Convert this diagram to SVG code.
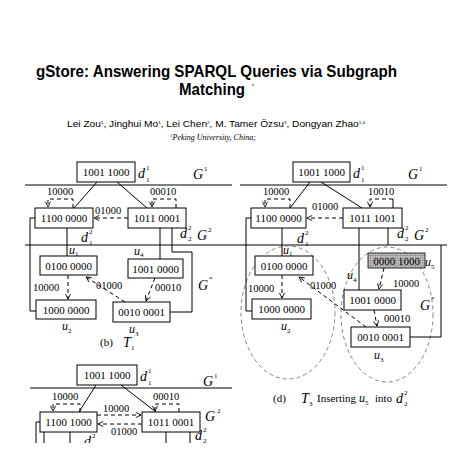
<svg xmlns="http://www.w3.org/2000/svg" width="464" height="472" viewBox="0 0 464 472">
<defs>
<style>
.bx{fill:#fff;stroke:#000;stroke-width:1}
.t{font-family:"Liberation Serif",serif;font-size:11px;fill:#000;text-anchor:middle}
.l{font-family:"Liberation Serif",serif;font-size:10.5px;fill:#000}
.m{font-family:"Liberation Serif",serif;font-style:italic;font-size:14px;fill:#000}
.mu{font-family:"Liberation Serif",serif;font-style:italic;font-size:12px;fill:#000}
.s{font-family:"Liberation Serif",serif;font-size:7px;fill:#000}
.ln{fill:none;stroke:#000;stroke-width:1}
.dl{fill:none;stroke:#000;stroke-width:1;stroke-dasharray:4,3}
.el{fill:none;stroke:#666;stroke-width:0.8;stroke-dasharray:4,3}
.cap{font-family:"Liberation Serif",serif;font-size:11px;fill:#000}
</style>
<marker id="ar" viewBox="0 0 8 8" refX="7" refY="4" markerWidth="7" markerHeight="7" orient="auto" markerUnits="userSpaceOnUse">
<path d="M1,1 L7,4 L1,7" fill="none" stroke="#000" stroke-width="1"/>
</marker>
<pattern id="hatch" width="2.5" height="2.5" patternUnits="userSpaceOnUse">
<rect width="2.5" height="2.5" fill="#c8c8c8"/>
<path d="M0,0 H2.5 M0,0 V2.5" stroke="#555" stroke-width="0.6"/>
</pattern>
<clipPath id="cut"><rect x="0" y="355" width="240" height="88"/></clipPath>
</defs>
<rect width="464" height="472" fill="#fff"/>

<g id="header">
<text x="36" y="77" font-family="Liberation Sans,Arial,sans-serif" font-weight="bold" font-size="17" textLength="361" lengthAdjust="spacingAndGlyphs">gStore: Answering SPARQL Queries via Subgraph</text>
<text x="179" y="95" font-family="Liberation Sans,Arial,sans-serif" font-weight="bold" font-size="16" textLength="66" lengthAdjust="spacingAndGlyphs">Matching</text>
<text x="252" y="88" font-family="Liberation Sans,sans-serif" font-size="5">*</text>
<text x="67" y="127" font-family="Liberation Sans,Arial,sans-serif" font-size="9" textLength="298" lengthAdjust="spacingAndGlyphs">Lei Zou<tspan font-size="4" dy="-3">1</tspan><tspan dy="3">, Jinghui Mo</tspan><tspan font-size="4" dy="-3">1</tspan><tspan dy="3">, Lei Chen</tspan><tspan font-size="4" dy="-3">2</tspan><tspan dy="3">, M. Tamer Özsu</tspan><tspan font-size="4" dy="-3">3</tspan><tspan dy="3">, Dongyan Zhao</tspan><tspan font-size="4" dy="-3">1,4</tspan></text>
<text x="170" y="140" font-family="Liberation Serif,serif" font-style="italic" font-size="8"><tspan font-size="5" dy="-3">1</tspan><tspan dy="3">Peking University, China;</tspan></text>
</g>

<!-- ===== Figure (b) ===== -->
<g id="b-connectors">
<line class="ln" x1="25" y1="185" x2="232" y2="185"/>
<line class="ln" x1="25" y1="245" x2="232" y2="245"/>
<line class="ln" x1="97" y1="182" x2="74" y2="208"/>
<line class="ln" x1="117" y1="182" x2="147" y2="208"/>
<path class="dl" d="M73,208 V199 H48 V207" marker-end="url(#ar)"/>
<path class="dl" d="M176,208 V199 H152 V207" marker-end="url(#ar)"/>
<path class="dl" d="M128,218 H94" marker-end="url(#ar)"/>
<line class="ln" x1="67" y1="228" x2="67" y2="256"/>
<path class="ln" d="M35,218 H30 V311 H36"/>
<line class="ln" x1="160" y1="228" x2="160" y2="259"/>
<path class="ln" d="M172,228 V252 H192 V312 H170"/>
<path class="dl" d="M68,275 V299" marker-end="url(#ar)"/>
<path class="dl" d="M125,302 L86,277" marker-end="url(#ar)"/>
<path class="dl" d="M155,278 L146,301" marker-end="url(#ar)"/>
<text class="l" x="47" y="195">10000</text>
<text class="l" x="150" y="195">00010</text>
<text class="l" x="95" y="214">01000</text>
<text class="l" x="33" y="291">10000</text>
<text class="l" x="96" y="289">01000</text>
<text class="l" x="155" y="291">00010</text>
</g>
<g id="b-d11"><rect class="bx" x="77" y="162" width="58" height="20"/><text class="t" x="106" y="176">1001 1000</text>
<text class="m" x="138" y="178">d</text><text class="s" x="146" y="170">1</text><text class="s" x="146" y="182">1</text></g>
<g id="b-G1"><text class="m" x="193" y="179">G</text><text class="s" x="204" y="171">1</text></g>
<g id="b-d12"><rect class="bx" x="35" y="208" width="58" height="20"/><text class="t" x="64" y="222">1100 0000</text>
<text class="m" x="81" y="242">d</text><text class="s" x="89" y="234">2</text><text class="s" x="89" y="245">1</text></g>
<g id="b-d22"><rect class="bx" x="128" y="208" width="58" height="20"/><text class="t" x="157" y="222">1011 0001</text>
<text class="m" x="180" y="238">d</text><text class="s" x="188" y="230">2</text><text class="s" x="188" y="241">2</text></g>
<g id="b-G2"><text class="m" x="197" y="240">G</text><text class="s" x="208" y="232">2</text></g>
<g id="b-u1"><rect class="bx" x="40" y="256" width="57" height="19"/><text class="t" x="68.5" y="269.5">0100 0000</text>
<text class="mu" x="69" y="254">u</text><text class="s" x="75" y="256">1</text></g>
<g id="b-u4"><rect class="bx" x="128" y="259" width="55" height="19"/><text class="t" x="155.5" y="272.5">1001 0000</text>
<text class="mu" x="134" y="255">u</text><text class="s" x="140" y="257">4</text></g>
<g id="b-u2"><rect class="bx" x="36" y="300" width="60" height="19"/><text class="t" x="66" y="313.5">1000 0000</text>
<text class="mu" x="62" y="330">u</text><text class="s" x="68" y="333">2</text></g>
<g id="b-u3"><rect class="bx" x="113" y="302" width="57" height="20"/><text class="t" x="141.5" y="316">0010 0001</text>
<text class="mu" x="129" y="333">u</text><text class="s" x="135" y="336">3</text></g>
<g id="b-Gs"><text class="m" x="198" y="290">G</text><text class="s" x="209" y="281">*</text></g>
<g id="b-caption"><text class="cap" x="100" y="346">(b)</text><text class="m" x="123" y="347">T</text><text class="s" x="131" y="350">1</text></g>

<!-- ===== Figure (c) partial ===== -->
<g clip-path="url(#cut)">
<g id="c-connectors">
<line class="ln" x1="30" y1="388" x2="232" y2="388"/>
<line class="ln" x1="96" y1="385" x2="79" y2="412"/>
<line class="ln" x1="121" y1="385" x2="156" y2="412"/>
<path class="dl" d="M80,412 V404 H53 V411" marker-end="url(#ar)"/>
<path class="dl" d="M179,412 V404 H155 V411" marker-end="url(#ar)"/>
<path class="dl" d="M97,415 H141" marker-end="url(#ar)"/>
<path class="dl" d="M142,424 H98" marker-end="url(#ar)"/>
<path class="ln" d="M40,422 H36 V443"/>
<line class="ln" x1="44" y1="432" x2="44" y2="443"/>
<line class="ln" x1="70" y1="432" x2="70" y2="443"/>
<line class="ln" x1="166" y1="432" x2="166" y2="443"/>
<line class="ln" x1="190" y1="432" x2="190" y2="443"/>
<text class="l" x="52" y="400">10000</text>
<text class="l" x="153" y="400">00010</text>
<text class="l" x="103" y="412">10000</text>
<text class="l" x="111" y="435">01000</text>
</g>
<g id="c-d11"><rect class="bx" x="77" y="365" width="60" height="20"/><text class="t" x="107" y="379">1001 1000</text>
<text class="m" x="140" y="381">d</text><text class="s" x="148" y="373">1</text><text class="s" x="148" y="385">1</text></g>
<g id="c-G1"><text class="m" x="203" y="386">G</text><text class="s" x="214" y="378">1</text></g>
<g id="c-d12"><rect class="bx" x="40" y="412" width="57" height="20"/><text class="t" x="68.5" y="426">1100 1000</text>
<text class="m" x="84" y="446">d</text><text class="s" x="92" y="438">2</text></g>
<g id="c-d22"><rect class="bx" x="142" y="412" width="58" height="20"/><text class="t" x="171" y="426">1011 0001</text>
<text class="m" x="195" y="440">d</text><text class="s" x="203" y="432">2</text><text class="s" x="203" y="443">2</text></g>
<g id="c-G2"><text class="m" x="205" y="421">G</text><text class="s" x="217" y="413">2</text></g>
</g>

<!-- ===== Figure (d) ===== -->
<g id="d-connectors">
<line class="ln" x1="240" y1="185" x2="447" y2="185"/>
<line class="ln" x1="232" y1="245" x2="447" y2="245"/>
<ellipse class="el" cx="288" cy="312.5" rx="47" ry="66.5"/>
<ellipse class="el" cx="387" cy="314.5" rx="46" ry="67.5"/>
<line class="ln" x1="310" y1="182" x2="290" y2="208"/>
<line class="ln" x1="321" y1="182" x2="362" y2="208"/>
<path class="dl" d="M290,208 V199 H265 V207" marker-end="url(#ar)"/>
<path class="ln" d="M393,208 V199"/>
<path class="dl" d="M393,199 H370 V207" marker-end="url(#ar)"/>
<path class="dl" d="M343,218 H307" marker-end="url(#ar)"/>
<line class="ln" x1="282" y1="228" x2="282" y2="256"/>
<path class="ln" d="M251,218 H246 V311 H252"/>
<line class="ln" x1="359" y1="228" x2="359" y2="290"/>
<line class="ln" x1="388" y1="228" x2="388" y2="245"/>
<path class="ln" d="M441,245 V337 H410"/>
<path class="dl" d="M282,275 V298" marker-end="url(#ar)"/>
<path class="dl" d="M366,327 L299,277" marker-end="url(#ar)"/>
<path class="dl" d="M384,268 L379,289" marker-end="url(#ar)"/>
<path class="dl" d="M374,310 L377,326" marker-end="url(#ar)"/>
<text class="l" x="263" y="195">10000</text>
<text class="l" x="368" y="195">10010</text>
<text class="l" x="312" y="210">01000</text>
<text class="l" x="248" y="292">10000</text>
<text class="l" x="310" y="289">01000</text>
<text class="l" x="393" y="287">10000</text>
<text class="l" x="384" y="322">00010</text>
</g>
<g id="d-d11"><rect class="bx" x="293" y="162" width="57" height="20"/><text class="t" x="321.5" y="176">1001 1000</text>
<text class="m" x="353" y="178">d</text><text class="s" x="361" y="170">1</text><text class="s" x="361" y="182">1</text></g>
<g id="d-G1"><text class="m" x="408" y="179">G</text><text class="s" x="419" y="171">1</text></g>
<g id="d-d12"><rect class="bx" x="251" y="208" width="55" height="20"/><text class="t" x="278.5" y="222">1100 0000</text>
<text class="m" x="297" y="243">d</text><text class="s" x="305" y="235">2</text><text class="s" x="305" y="246">1</text></g>
<g id="d-d22"><rect class="bx" x="343" y="208" width="59" height="20"/><text class="t" x="372.5" y="222">1011 1001</text>
<text class="m" x="397" y="238">d</text><text class="s" x="405" y="230">2</text><text class="s" x="405" y="241">2</text></g>
<g id="d-G2"><text class="m" x="414" y="240">G</text><text class="s" x="425" y="232">2</text></g>
<g id="d-u1"><rect class="bx" x="255" y="256" width="58" height="19"/><text class="t" x="284" y="269.5">0100 0000</text>
<text class="mu" x="283" y="254">u</text><text class="s" x="289" y="256">1</text></g>
<g id="d-u2"><rect class="bx" x="252" y="299" width="59" height="20"/><text class="t" x="281.5" y="313">1000 0000</text>
<text class="mu" x="281" y="330">u</text><text class="s" x="287" y="333">2</text></g>
<g id="d-u5"><rect x="368" y="253" width="57" height="15" fill="url(#hatch)" stroke="#000" stroke-width="0.8"/><text class="t" x="396.5" y="264.5">0000 1000</text>
<text class="mu" x="425" y="266">u</text><text class="s" x="431" y="269">5</text></g>
<g id="d-u4"><rect class="bx" x="344" y="290" width="57" height="20"/><text class="t" x="372.5" y="304">1001 0000</text>
<text class="mu" x="347" y="279">u</text><text class="s" x="353" y="282">4</text></g>
<g id="d-u3"><rect class="bx" x="351" y="327" width="59" height="20"/><text class="t" x="380.5" y="341">0010 0001</text>
<text class="mu" x="374" y="359">u</text><text class="s" x="380" y="362">3</text></g>
<g id="d-Gs"><text class="m" x="420" y="310">G</text><text class="s" x="431" y="301">*</text></g>
<g id="d-caption"><text class="cap" x="273" y="402">(d)</text><text class="m" x="301" y="403">T</text><text class="s" x="309" y="406">3</text>
<text class="cap" x="317" y="402">Inserting</text><text class="mu" x="359" y="402">u</text><text class="s" x="365" y="405">5</text>
<text class="cap" x="375" y="402">into</text><text class="m" x="396" y="403">d</text><text class="s" x="404" y="395">2</text><text class="s" x="404" y="406">2</text></g>
</svg>
